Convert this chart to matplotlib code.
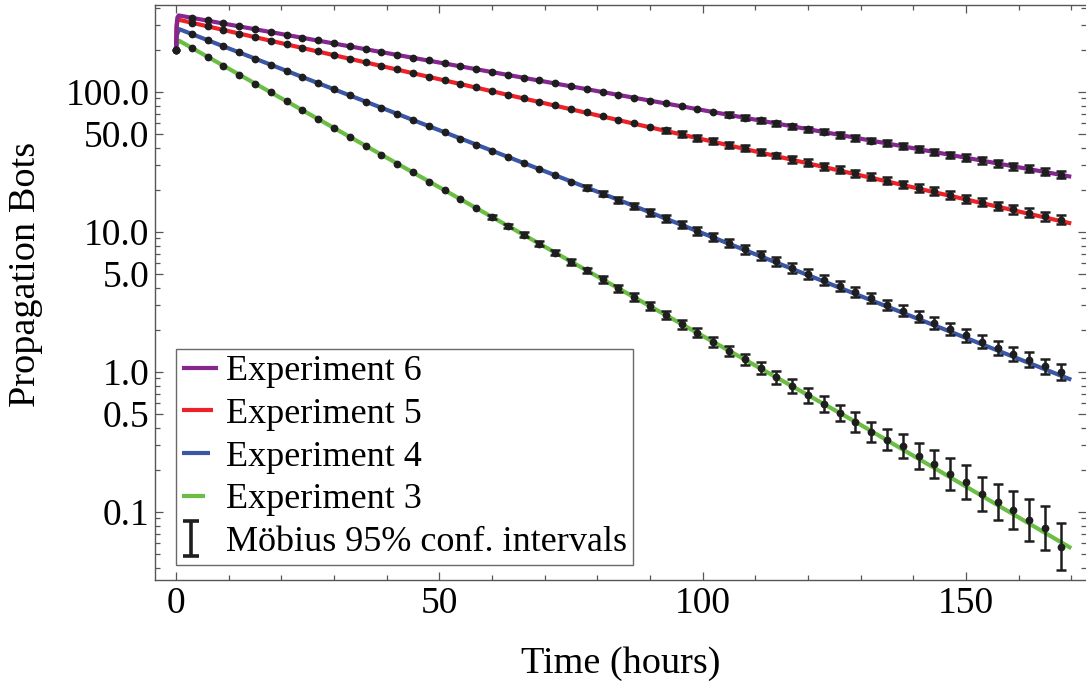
import matplotlib
matplotlib.use("Agg")
import matplotlib.pyplot as plt
import numpy as np
from matplotlib.legend_handler import HandlerLine2D, HandlerErrorbar

plt.rcParams["font.family"] = ["Liberation Serif", "DejaVu Serif"]

# sampling times of the Möbius runs (every 3 hours)
hours = list(range(0, 169, 3))

exp6_bots = [200, 339.6, 324.0, 309.1, 294.9, 281.4, 268.5, 256.2, 244.4, 233.2, 222.5,
             212.3, 202.6, 193.3, 184.4, 176.0, 167.9, 160.2, 152.8, 145.8, 139.1,
             132.7, 126.6, 120.8, 115.3, 110.0, 104.9, 100.1, 95.5, 91.1, 86.9,
             82.9, 79.1, 75.5, 72.0, 68.7, 65.6, 62.6, 59.7, 56.9, 54.3,
             51.8, 49.5, 47.2, 45.0, 43.0, 41.0, 39.1, 37.3, 35.6, 34.0,
             32.4, 30.9, 29.5, 28.2, 26.9, 25.6]
exp5_bots = [200, 312.2, 294.3, 277.4, 261.5, 246.5, 232.4, 219.1, 206.5, 194.7, 183.5,
             173.0, 163.1, 153.8, 144.9, 136.6, 128.8, 121.4, 114.5, 107.9, 101.7,
             95.9, 90.4, 85.2, 80.3, 75.7, 71.4, 67.3, 63.4, 59.8, 56.4,
             53.1, 50.1, 47.2, 44.5, 42.0, 39.6, 37.3, 35.2, 33.2, 31.3,
             29.5, 27.8, 26.2, 24.7, 23.3, 21.9, 20.7, 19.5, 18.4, 17.3,
             16.3, 15.4, 14.5, 13.7, 12.9, 12.2]
exp4_bots = [200, 259.5, 234.5, 212.0, 191.6, 173.2, 156.5, 141.5, 127.9, 115.6, 104.4,
             94.4, 85.3, 77.1, 69.7, 63.0, 56.9, 51.5, 46.5, 42.0, 38.0,
             34.3, 31.0, 28.1, 25.4, 22.9, 20.7, 18.7, 16.9, 15.3, 13.8,
             12.5, 11.3, 10.2, 9.23, 8.34, 7.54, 6.81, 6.16, 5.56, 5.03,
             4.55, 4.11, 3.71, 3.36, 3.03, 2.74, 2.48, 2.24, 2.02, 1.83,
             1.65, 1.49, 1.35, 1.22, 1.10, 1.00]
exp3_bots = [200, 206.3, 178.2, 153.9, 133.0, 114.9, 99.2, 85.7, 74.0, 63.9, 55.2,
             47.7, 41.2, 35.6, 30.8, 26.6, 22.9, 19.8, 17.1, 14.8, 12.8,
             11.0, 9.53, 8.23, 7.11, 6.14, 5.31, 4.58, 3.96, 3.42, 2.95,
             2.55, 2.20, 1.90, 1.64, 1.42, 1.23, 1.06, 0.915, 0.790, 0.683,
             0.590, 0.509, 0.441, 0.375, 0.327, 0.296, 0.251, 0.220, 0.187, 0.164,
             0.134, 0.117, 0.103, 0.0877, 0.0766, 0.0565]

# 95% confidence interval half-widths, in decades (log10 units)
exp6_ci = [0.0] * 35 + [0.018] * 7 + [0.021] * 8 + [0.025] * 7
exp5_ci = [0.0] * 31 + [0.018, 0.018, 0.021, 0.021, 0.021, 0.021, 0.021, 0.021,
                        0.025, 0.025, 0.025, 0.025, 0.025, 0.025, 0.025, 0.025,
                        0.029, 0.029, 0.029, 0.029, 0.029, 0.029,
                        0.032, 0.032, 0.032, 0.032]
exp4_ci = [0.0] * 26 + [0.018, 0.018, 0.021, 0.021, 0.025, 0.025, 0.025, 0.029, 0.029,
                        0.029, 0.032, 0.032, 0.032, 0.036, 0.036, 0.036, 0.036, 0.036,
                        0.036, 0.036, 0.039, 0.039, 0.043, 0.043, 0.046, 0.046, 0.05,
                        0.05, 0.054, 0.054, 0.057]
exp3_ci = [0.0] * 20 + [0.014, 0.014, 0.018, 0.018, 0.018, 0.021, 0.021, 0.025, 0.025,
                        0.029, 0.029, 0.029, 0.032, 0.032, 0.036, 0.036, 0.039, 0.043,
                        0.046, 0.05, 0.054, 0.057, 0.057, 0.071, 0.071, 0.075, 0.086,
                        0.093, 0.1, 0.114, 0.121, 0.121, 0.129, 0.136, 0.15, 0.157, 0.168]

# fitted model curves (knots, straight in log space between them)
fit6_t = [0, 0.1, 0.25, 0.5, 170]
fit6_v = [200, 300, 340, 352, 24.8]
fit5_t = [0, 0.1, 0.25, 0.5, 170]
fit5_v = [200, 285, 318, 328, 11.5]
fit4_t = [0, 0.15, 0.6, 85, 170]
fit4_v = [200, 255, 281, 16.4, 0.88]
fit3_t = [0, 0.15, 0.6, 60, 100, 129, 170]
fit3_v = [200, 220, 232, 12.8, 1.81, 0.441, 0.0551]

labels = ["Experiment 6", "Experiment 5", "Experiment 4", "Experiment 3"]
colors = ["#84278e", "#ec2229", "#3a56a5", "#6cbd45"]
DOT = "#1e1e1e"


class ShortLine(HandlerLine2D):
    def __init__(self, frac, **kw):
        super().__init__(**kw)
        self.frac = frac

    def create_artists(self, legend, orig_handle, xdescent, ydescent, width, height, fontsize, trans):
        return super().create_artists(legend, orig_handle, xdescent, ydescent,
                                      width * self.frac, height, fontsize, trans)


class ShortErrorbar(HandlerErrorbar):
    def __init__(self, frac, **kw):
        super().__init__(**kw)
        self.frac = frac

    def create_artists(self, legend, orig_handle, xdescent, ydescent, width, height, fontsize, trans):
        return super().create_artists(legend, orig_handle, xdescent, ydescent,
                                      width * self.frac, height, fontsize, trans)


fig = plt.figure(figsize=(10.86, 6.85), dpi=100)
ax = fig.add_axes([155 / 1086, 105 / 685, 931 / 1086, 575 / 685])
ax.set_yscale("log")

fits = [(fit6_t, fit6_v), (fit5_t, fit5_v), (fit4_t, fit4_v), (fit3_t, fit3_v)]
series = [(exp6_bots, exp6_ci), (exp5_bots, exp5_ci), (exp4_bots, exp4_ci), (exp3_bots, exp3_ci)]
t = np.array(hours, dtype=float)

line_handles = []
for i in reversed(range(4)):
    ln, = ax.plot(fits[i][0], fits[i][1], color=colors[i], lw=3.0,
                  solid_capstyle="butt", zorder=2 + 0.1 * (4 - i), label=labels[i])
    line_handles.insert(0, ln)

for vals, ci in series:
    v = np.array(vals, dtype=float)
    h = np.array(ci, dtype=float)
    m = h > 0
    lo = v[m] - v[m] / 10 ** h[m]
    hi = v[m] * 10 ** h[m] - v[m]
    ax.errorbar(t[m], v[m], yerr=[lo, hi], fmt="none", ecolor=DOT,
                elinewidth=1.8, capsize=3.8, capthick=1.8, zorder=4)
    ax.plot(t, v, "o", color=DOT, ms=5.6, mew=0, zorder=5)

# bolder stand-in used only for the legend symbol
err_handle = ax.errorbar([np.nan], [np.nan], yerr=[[1], [1]], fmt="none", ecolor=DOT,
                         elinewidth=2.6, capsize=6.0, capthick=2.6)

ax.set_xlim(-4.0, 172.8)
ax.set_ylim(0.03267, 418)

ax.set_xticks([0, 50, 100, 150])
ax.set_xticks([v for v in range(0, 171, 10) if v % 50], minor=True)
yt = [0.1, 0.5, 1, 5, 10, 50, 100]
ax.set_yticks(yt)
ax.set_yticklabels(["0.1", "0.5", "1.0", "5.0", "10.0", "50.0", "100.0"])
yminor = [0.04, 0.05, 0.06, 0.07, 0.08, 0.09, 0.2, 0.3, 0.4, 0.6, 0.7, 0.8, 0.9,
          2, 3, 4, 6, 7, 8, 9, 20, 30, 40, 60, 70, 80, 90, 200, 300, 400]
ax.set_yticks(yminor, minor=True)
ax.set_yticklabels([], minor=True)

ax.tick_params(which="both", direction="in", top=True, right=True,
               color="#555555", width=0.9, labelsize=27)
ax.tick_params(which="major", length=6)
ax.tick_params(which="minor", length=3.5)
ax.tick_params(axis="x", pad=5)
ax.tick_params(axis="y", pad=4)

for s in ["left", "bottom", "top"]:
    ax.spines[s].set_color("#555555")
    ax.spines[s].set_linewidth(1.0)
ax.spines["right"].set_visible(False)

ax.set_xlabel("Time (hours)", fontsize=27.5)
ax.set_ylabel("Propagation Bots", fontsize=27.5)
ax.xaxis.set_label_coords(0.5, -0.115)
ax.yaxis.set_label_coords(-0.12, 0.532)

leg = ax.legend(
    line_handles + [err_handle],
    labels + ["Möbius 95% conf. intervals"],
    handler_map={
        line_handles[0]: ShortLine(1.0),
        line_handles[1]: ShortLine(0.85),
        line_handles[2]: ShortLine(0.77),
        line_handles[3]: ShortLine(0.62),
        err_handle: ShortErrorbar(0.5, xerr_size=0.48),
    },
    loc="lower left", bbox_to_anchor=(21 / 931, 15 / 575), borderaxespad=0,
    fontsize=26, frameon=True, fancybox=False, edgecolor="#444444",
    handlelength=1.0, handletextpad=0.22, borderpad=0.17, labelspacing=0.26,
)
leg.get_frame().set_linewidth(1.0)

fig.savefig("out.png", dpi=100)
plt.close(fig)
